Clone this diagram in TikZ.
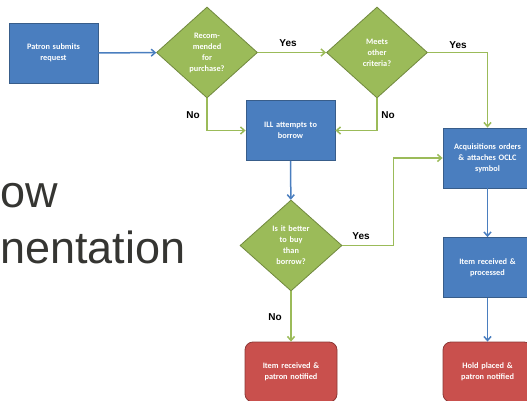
\documentclass[tikz,border=0pt]{standalone}
\usepackage{fontspec}
\setmainfont{Carlito}
\newfontfamily\arialfont{Liberation Sans}
\usetikzlibrary{shapes.geometric,arrows.meta,positioning}

\definecolor{boxblue}{HTML}{4A7EBF}
\definecolor{boxblueline}{HTML}{385D8A}
\definecolor{boxgreen}{HTML}{9BBB59}
\definecolor{boxgreenline}{HTML}{71893F}
\definecolor{boxred}{HTML}{C9504D}
\definecolor{boxredline}{HTML}{8C3836}
\definecolor{titlegray}{HTML}{353532}

\tikzset{
  boxtext/.style={text=white, align=center, font=\bfseries\fontsize{8.3}{11}\selectfont},
  passo/.style={boxtext, rectangle, fill=boxblue, draw=boxblueline, line width=0.8pt,
    minimum width=89pt, minimum height=60pt, text width=84pt, inner sep=2pt},
  fine/.style={passo, fill=boxred, draw=boxredline, rounded corners=8pt},
  scelta/.style={boxtext, diamond, fill=boxgreen, draw=boxgreenline, line width=0.8pt,
    minimum width=101pt, minimum height=91pt, inner sep=0pt, text width=50pt},
  blu/.style={draw=boxblue, line width=1.5pt, -{Straight Barb[length=4pt,width=7pt]}},
  verde/.style={blu, draw=boxgreen},
  risposta/.style={font=\arialfont\bfseries\fontsize{10}{12}\selectfont, inner sep=0pt},
  titolo/.style={font=\arialfont\fontsize{45}{50}\selectfont, text=titlegray,
    anchor=base west, inner sep=0pt}
}

\begin{document}
\begin{tikzpicture}[x=1pt, y=-1pt]
    \useasboundingbox (0,0) rectangle (527,401);
    \clip (0,0) rectangle (527,401);

    % titolo tagliato a sinistra
    \node[titolo] (titoloA) at (0,207) {ow};
    \node[titolo] (titoloB) at (0,263) {nentation};

    % passi
    \node[passo]  (patron) at (53.5,53)   {Patron submits\\request};
    \node[scelta] (recom)  at (207,52.5)  {Recom-\\mended\\for\\purchase?};
    \node[scelta] (meets)  at (377,52.5)  {Meets\\other\\criteria?};
    \node[passo]  (ill)    at (290.5,130.5) {ILL attempts to\\borrow};
    \node[scelta, minimum width=102pt] (better) at (291,245.5) {Is it better\\to buy\\than\\borrow?};
    \node[passo]  (acq)    at (487.5,158) {Acquisitions orders\\\& attaches OCLC\\symbol};
    \node[passo]  (proc)   at (487.5,267.5) {Item received \&\\processed};
    \node[fine, minimum width=92pt] (received) at (291,372) {Item received \&\\patron notified};
    \node[fine]   (hold)   at (487.5,372) {Hold placed \&\\patron notified};

    % frecce
    \draw[blu] (patron) -- (recom);
    \draw[verde] (recom) -- (meets);
    \draw[verde] (meets.east) -| (acq.north);
    \draw[verde] (recom.south) |- (ill.west);
    \draw[verde] (meets.south) |- (ill.east);
    \draw[blu] (ill) -- (better);
    \draw[verde] (better.east) -- ++(51,0) |- (acq.west);
    \draw[verde] (better) -- (received);
    \draw[blu] (acq) -- (proc);
    \draw[blu] (proc) -- (hold);

    % etichette
    \node[risposta] (yesA) at (288,43)  {Yes};
    \node[risposta] (yesB) at (458,45)  {Yes};
    \node[risposta] (noA)  at (193,115) {No};
    \node[risposta] (noB)  at (388,115) {No};
    \node[risposta] (yesC) at (361,236) {Yes};
    \node[risposta] (noC)  at (275,317) {No};
\end{tikzpicture}
\end{document}
